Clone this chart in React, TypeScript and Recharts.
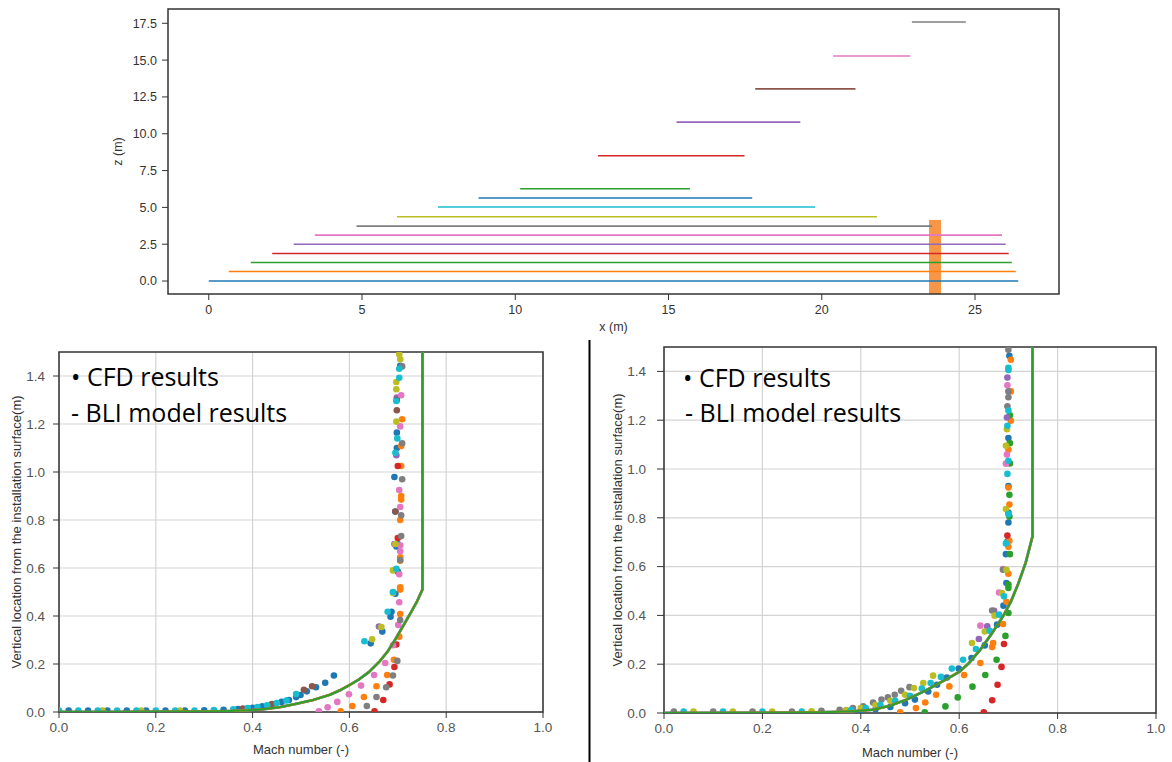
import { ScatterChart, Scatter, XAxis, YAxis, CartesianGrid, ReferenceArea } from 'recharts';

type Pt = [number, number];

const FONT = '"Liberation Sans", Arial, sans-serif';
const TAB = {
  blue: '#1f77b4',
  orange: '#ff7f0e',
  green: '#2ca02c',
  red: '#d62728',
  purple: '#9467bd',
  brown: '#8c564b',
  pink: '#e377c2',
  gray: '#7f7f7f',
  olive: '#bcbd22',
  cyan: '#17becf',
};

// ---- top: probe lines over the installation (x, z in m)
const probeZ = [0, 0.65, 1.26, 1.87, 2.5, 3.12, 3.73, 4.36, 5.03, 5.64, 6.27, 8.51, 10.79, 13.05, 15.28, 17.59];
const probeStart = [0, 0.65, 1.37, 2.07, 2.77, 3.46, 4.82, 6.14, 7.48, 8.8, 10.16, 12.7, 15.26, 17.83, 20.37, 22.94];
const probeEnd = [26.41, 26.33, 26.2, 26.1, 26.0, 25.88, 23.6, 21.8, 19.78, 17.73, 15.7, 17.48, 19.3, 21.1, 22.89, 24.7];
const probeColor = ['blue', 'orange', 'green', 'red', 'purple', 'pink', 'gray', 'olive', 'cyan', 'blue', 'green', 'red', 'purple', 'brown', 'pink', 'gray'] as const;
const bliX = [23.5, 23.89];
const bliTop = 4.15;
const xTicksTop = [0, 5, 10, 15, 20, 25];
const zTicks = [0, 2.5, 5, 7.5, 10, 12.5, 15, 17.5];

// ---- bottom-left case: CFD points (Mach, height)
const cfdA_blue: Pt[] = [[0.02, 0.006], [0.06, 0.006], [0.1, 0.006], [0.14, 0.006], [0.18, 0.006], [0.22, 0.006], [0.26, 0.006], [0.3, 0.007], [0.34, 0.009], [0.37, 0.012], [0.4, 0.018], [0.42, 0.024], [0.44, 0.032], [0.46, 0.042], [0.475, 0.05], [0.49, 0.062], [0.499, 0.071], [0.512, 0.086], [0.531, 0.103], [0.55, 0.122], [0.568, 0.152], [0.644, 0.286], [0.668, 0.335], [0.685, 0.397], [0.687, 0.418], [0.695, 0.493], [0.7, 0.585], [0.697, 0.69], [0.7, 0.7], [0.695, 0.835], [0.693, 0.979], [0.698, 1.1], [0.698, 1.164], [0.705, 1.442]];
const cfdA_cyan: Pt[] = [[0.0, 0.006], [0.04, 0.006], [0.08, 0.006], [0.12, 0.006], [0.16, 0.006], [0.2, 0.006], [0.24, 0.006], [0.28, 0.006], [0.32, 0.008], [0.36, 0.011], [0.39, 0.016], [0.41, 0.021], [0.43, 0.028], [0.45, 0.037], [0.47, 0.048], [0.49, 0.075], [0.631, 0.295], [0.679, 0.418], [0.69, 0.5], [0.697, 0.597], [0.695, 1.08], [0.699, 1.14], [0.697, 1.296], [0.703, 1.393], [0.703, 1.43]];
const cfdA_brown: Pt[] = [[0.38, 0.014], [0.44, 0.033], [0.506, 0.093], [0.523, 0.107], [0.695, 0.835], [0.698, 1.257], [0.698, 1.3]];
const cfdA_olive: Pt[] = [[0.09, 0.006], [0.17, 0.006], [0.25, 0.006], [0.647, 0.303], [0.666, 0.354], [0.69, 0.496], [0.69, 0.59], [0.695, 0.7], [0.697, 1.21], [0.697, 1.345], [0.697, 1.375], [0.705, 1.47], [0.703, 1.49]];
const cfdA_purple: Pt[] = [[0.661, 0.356], [0.693, 0.7], [0.697, 1.07], [0.698, 1.31]];
const cfdA_pink: Pt[] = [[0.537, 0.003], [0.555, 0.02], [0.575, 0.042], [0.599, 0.074], [0.624, 0.11], [0.651, 0.154], [0.674, 0.204], [0.69, 0.278], [0.701, 0.363], [0.703, 0.457], [0.703, 0.574], [0.705, 0.67], [0.705, 0.695], [0.705, 0.854], [0.703, 0.925], [0.705, 1.19], [0.707, 1.32]];
const cfdA_orange: Pt[] = [[0.582, 0.003], [0.606, 0.025], [0.63, 0.0625], [0.656, 0.107], [0.678, 0.154], [0.692, 0.218], [0.703, 0.314], [0.705, 0.408], [0.705, 0.51], [0.705, 0.52], [0.705, 0.63], [0.705, 0.645], [0.705, 0.8], [0.707, 0.885], [0.707, 0.9], [0.707, 1.025], [0.707, 1.108], [0.709, 1.22]];
const cfdA_gray: Pt[] = [[0.636, 0.025], [0.656, 0.0625], [0.676, 0.103], [0.69, 0.152], [0.699, 0.213], [0.705, 0.383], [0.705, 0.633], [0.707, 0.733], [0.707, 0.82], [0.709, 0.97], [0.709, 1.12], [0.709, 1.44]];
const cfdA_red: Pt[] = [[0.652, 0.003], [0.67, 0.05], [0.683, 0.115], [0.693, 0.1875], [0.697, 0.281], [0.7, 0.725], [0.7, 1.025]];

// ---- bottom-left case: BLI model profile
const bliA: Pt[] = [[0, 0], [0.1, 0.0005], [0.2, 0.001], [0.3, 0.002], [0.353, 0.004], [0.39, 0.007], [0.421, 0.011], [0.456, 0.02], [0.49, 0.034], [0.525, 0.05], [0.56, 0.072], [0.58, 0.09], [0.6, 0.112], [0.62, 0.136], [0.64, 0.166], [0.663, 0.212], [0.68, 0.255], [0.695, 0.303], [0.71, 0.355], [0.725, 0.407], [0.74, 0.462], [0.751, 0.511], [0.751, 1.5]];

// ---- bottom-right case: CFD points
const cfdB_gray: Pt[] = [[0.02, 0.006], [0.1, 0.006], [0.18, 0.006], [0.26, 0.006], [0.32, 0.009], [0.357, 0.013], [0.384, 0.02], [0.405, 0.027], [0.425, 0.043], [0.442, 0.055], [0.455, 0.064], [0.469, 0.075], [0.482, 0.091], [0.499, 0.106], [0.667, 0.42], [0.689, 0.587], [0.698, 1.257], [0.7, 1.294], [0.7, 1.318], [0.7, 1.489]];
const cfdB_olive: Pt[] = [[0.06, 0.006], [0.14, 0.006], [0.22, 0.006], [0.3, 0.007], [0.37, 0.012], [0.4, 0.02], [0.43, 0.033], [0.46, 0.05], [0.49, 0.075], [0.508, 0.102], [0.527, 0.123], [0.547, 0.153], [0.626, 0.287], [0.652, 0.334], [0.672, 0.399], [0.687, 0.492], [0.696, 0.587], [0.695, 0.836], [0.695, 1.095], [0.697, 1.163]];
const cfdB_cyan: Pt[] = [[0.04, 0.006], [0.12, 0.006], [0.2, 0.006], [0.28, 0.006], [0.38, 0.012], [0.41, 0.02], [0.44, 0.033], [0.47, 0.05], [0.5, 0.07], [0.524, 0.1], [0.542, 0.123], [0.563, 0.148], [0.585, 0.182], [0.608, 0.218], [0.634, 0.262], [0.662, 0.337], [0.681, 0.403], [0.691, 0.478], [0.695, 0.695], [0.7, 0.815], [0.698, 0.98], [0.7, 1.034], [0.698, 1.177], [0.7, 1.24], [0.7, 1.406], [0.7, 1.415]];
const cfdB_blue: Pt[] = [[0.4, 0.008], [0.43, 0.015], [0.46, 0.025], [0.49, 0.04], [0.51, 0.055], [0.537, 0.088], [0.555, 0.116], [0.575, 0.145], [0.599, 0.182], [0.625, 0.225], [0.652, 0.277], [0.677, 0.362], [0.69, 0.44], [0.696, 0.533], [0.695, 0.651], [0.698, 0.703], [0.7, 0.781], [0.7, 0.822], [0.7, 0.93], [0.7, 1.127], [0.702, 1.464]];
const cfdB_orange: Pt[] = [[0.48, 0.003], [0.512, 0.02], [0.531, 0.043], [0.553, 0.075], [0.58, 0.109], [0.61, 0.156], [0.643, 0.205], [0.667, 0.27], [0.669, 0.287], [0.689, 0.365], [0.696, 0.456], [0.7, 0.571], [0.7, 0.681], [0.702, 0.706], [0.702, 0.854], [0.7, 0.924], [0.7, 1.079], [0.705, 1.198], [0.705, 1.318], [0.705, 1.448]];
const cfdB_green: Pt[] = [[0.53, 0.003], [0.572, 0.027], [0.597, 0.064], [0.627, 0.108], [0.653, 0.156], [0.676, 0.218], [0.694, 0.316], [0.7, 0.41], [0.7, 0.512], [0.7, 0.526], [0.703, 0.651], [0.702, 0.805], [0.702, 0.894], [0.703, 1.023], [0.703, 1.106], [0.703, 1.22]];
const cfdB_red: Pt[] = [[0.65, 0.003], [0.667, 0.052], [0.678, 0.116], [0.686, 0.189], [0.691, 0.283], [0.698, 0.727]];
const cfdB_pink: Pt[] = [[0.643, 0.358], [0.681, 0.494], [0.689, 0.59], [0.695, 1.022], [0.697, 1.059], [0.698, 1.343]];
const cfdB_purple: Pt[] = [[0.64, 0.303], [0.657, 0.355], [0.671, 0.419], [0.697, 1.211], [0.698, 1.375]];

const bliB: Pt[] = [[0, 0], [0.2, 0.001], [0.3, 0.002], [0.357, 0.005], [0.39, 0.008], [0.425, 0.0135], [0.46, 0.03], [0.493, 0.055], [0.53, 0.09], [0.56, 0.123], [0.58, 0.145], [0.601, 0.17], [0.62, 0.205], [0.643, 0.26], [0.665, 0.322], [0.689, 0.396], [0.705, 0.456], [0.72, 0.53], [0.735, 0.615], [0.749, 0.724], [0.749, 1.5]];

const machTicks = [0, 0.2, 0.4, 0.6, 0.8, 1.0];
const heightTicks = [0, 0.2, 0.4, 0.6, 0.8, 1.0, 1.2, 1.4];

const caseA: [Pt[], string][] = [
  [cfdA_blue, TAB.blue], [cfdA_orange, TAB.orange], [cfdA_red, TAB.red], [cfdA_purple, TAB.purple],
  [cfdA_brown, TAB.brown], [cfdA_pink, TAB.pink], [cfdA_gray, TAB.gray], [cfdA_olive, TAB.olive], [cfdA_cyan, TAB.cyan],
];
const caseB: [Pt[], string][] = [
  [cfdB_blue, TAB.blue], [cfdB_orange, TAB.orange], [cfdB_green, TAB.green], [cfdB_red, TAB.red],
  [cfdB_purple, TAB.purple], [cfdB_pink, TAB.pink], [cfdB_gray, TAB.gray], [cfdB_olive, TAB.olive], [cfdB_cyan, TAB.cyan],
];

const toXY = (pts: Pt[]) => pts.map(([x, y]) => ({ x, y }));
const noDot = () => <g />;

function ProbeLayout() {
  const tick = { fontSize: 12.5, fill: '#333', fontFamily: FONT };
  return (
    <ScatterChart width={1172} height={340} margin={{ top: 9, right: 113, bottom: 0, left: 100 }}>
      <XAxis
        type="number"
        dataKey="x"
        domain={[-1.33, 27.74]}
        ticks={xTicksTop}
        allowDataOverflow
        height={46}
        tickSize={6}
        tickMargin={5}
        axisLine={false}
        tickLine={{ stroke: '#333' }}
        tick={tick}
        label={{ value: 'x (m)', position: 'insideBottom', offset: 9, fontSize: 12.5, fill: '#333', fontFamily: FONT }}
      />
      <YAxis
        type="number"
        dataKey="y"
        domain={[-0.88, 18.47]}
        ticks={zTicks}
        allowDataOverflow
        width={68}
        tickSize={6}
        tickMargin={5}
        axisLine={false}
        tickLine={{ stroke: '#333' }}
        tick={tick}
        tickFormatter={(v: number) => v.toFixed(1)}
        label={{ value: 'z (m)', angle: -90, position: 'insideLeft', offset: 18, style: { textAnchor: 'middle' }, fontSize: 12.5, fill: '#333', fontFamily: FONT }}
      />
      {probeZ.map((z, i) => (
        <Scatter
          key={i}
          data={[{ x: probeStart[i], y: z }, { x: probeEnd[i], y: z }]}
          line={{ stroke: TAB[probeColor[i]], strokeWidth: 1.6 }}
          lineType="joint"
          shape={noDot}
          isAnimationActive={false}
        />
      ))}
      <ReferenceArea x1={bliX[0]} x2={bliX[1]} y1={-0.88} y2={bliTop} fill="#f79646" fillOpacity={1} stroke="none" ifOverflow="visible" />
      <ReferenceArea x1={-1.33} x2={27.74} y1={-0.88} y2={18.47} fill="none" stroke="#333" strokeWidth={1.5} ifOverflow="visible" />
    </ScatterChart>
  );
}

function MachProfile({
  series,
  model,
  margin,
  yWidth,
  yLabelOffset,
  yTickSize,
  yTickMargin,
  xLabelOffset,
}: {
  series: [Pt[], string][];
  model: Pt[];
  margin: { top: number; right: number; bottom: number; left: number };
  yWidth: number;
  yLabelOffset: number;
  yTickSize: number;
  yTickMargin: number;
  xLabelOffset: number;
}) {
  const tick = { fontSize: 13.5, fill: '#555', fontFamily: FONT };
  const lbl = { fontSize: 13, fill: '#333', fontFamily: FONT };
  const modelData = toXY(model);
  return (
    <ScatterChart width={582} height={422} margin={margin}>
      <CartesianGrid stroke="#d4d4d4" strokeWidth={1.2} horizontalValues={heightTicks} verticalValues={machTicks} />
      <XAxis
        type="number"
        dataKey="x"
        domain={[0, 1]}
        ticks={machTicks}
        allowDataOverflow
        height={49}
        tickSize={6}
        tickMargin={4}
        axisLine={false}
        tickLine={{ stroke: '#333' }}
        tick={tick}
        tickFormatter={(v: number) => v.toFixed(1)}
        label={{ value: 'Mach number (-)', position: 'insideBottom', offset: xLabelOffset, ...lbl }}
      />
      <YAxis
        type="number"
        dataKey="y"
        domain={[0, 1.5]}
        ticks={heightTicks}
        allowDataOverflow
        width={yWidth}
        tickSize={yTickSize}
        tickMargin={yTickMargin}
        axisLine={false}
        tickLine={{ stroke: '#333' }}
        tick={tick}
        tickFormatter={(v: number) => v.toFixed(1)}
        label={{
          value: 'Vertical location from the installation surface(m)',
          angle: -90,
          position: 'insideLeft',
          offset: yLabelOffset,
          style: { textAnchor: 'middle' },
          ...lbl,
        }}
      />
      {series.map(([pts, color], i) => (
        <Scatter
          key={i}
          data={toXY(pts)}
          isAnimationActive={false}
          shape={(p: { cx?: number; cy?: number }) => <circle cx={p.cx} cy={p.cy} r={3.3} fill={color} />}
        />
      ))}
      <Scatter data={modelData} line={{ stroke: TAB.blue, strokeWidth: 2.8 }} lineType="joint" shape={noDot} isAnimationActive={false} />
      <Scatter data={modelData} line={{ stroke: TAB.orange, strokeWidth: 2.4 }} lineType="joint" shape={noDot} isAnimationActive={false} />
      <Scatter data={modelData} line={{ stroke: TAB.green, strokeWidth: 2 }} lineType="joint" shape={noDot} isAnimationActive={false} />
      <ReferenceArea x1={0} x2={1} y1={0} y2={1.5} fill="none" stroke="#333" strokeWidth={1.5} ifOverflow="visible" />
    </ScatterChart>
  );
}

const noteStyle = { fontFamily: '"Open Sans", sans-serif', fontSize: 25, fill: '#000' };

export default function App() {
  return (
    <div style={{ position: 'absolute', left: 0, top: 0, width: 1172, height: 762, background: '#fff', overflow: 'hidden' }}>
      <div style={{ position: 'absolute', left: 0, top: 0 }}>
        <ProbeLayout />
      </div>
      <div style={{ position: 'absolute', left: 0, top: 340 }}>
        <MachProfile
          series={caseA}
          model={bliA}
          margin={{ top: 12, right: 39, bottom: 1, left: 0 }}
          yWidth={59}
          yLabelOffset={16}
          yTickSize={6}
          yTickMargin={8}
          xLabelOffset={7}
        />
      </div>
      <div style={{ position: 'absolute', left: 590, top: 340 }}>
        <MachProfile
          series={caseB}
          model={bliB}
          margin={{ top: 7, right: 16, bottom: 0, left: 0 }}
          yWidth={74}
          yLabelOffset={27}
          yTickSize={7}
          yTickMargin={11}
          xLabelOffset={5}
        />
      </div>
      <svg width={1172} height={762} style={{ position: 'absolute', left: 0, top: 0, pointerEvents: 'none' }}>
        <line x1={589.5} y1={340} x2={589.5} y2={762} stroke="#000" strokeWidth={2} />
        <text x={71} y={386} {...noteStyle}>• CFD results</text>
        <text x={71} y={421.5} {...noteStyle}>- BLI model results</text>
        <text x={683} y={386.5} {...noteStyle}>• CFD results</text>
        <text x={685} y={421.5} {...noteStyle}>- BLI model results</text>
      </svg>
    </div>
  );
}
